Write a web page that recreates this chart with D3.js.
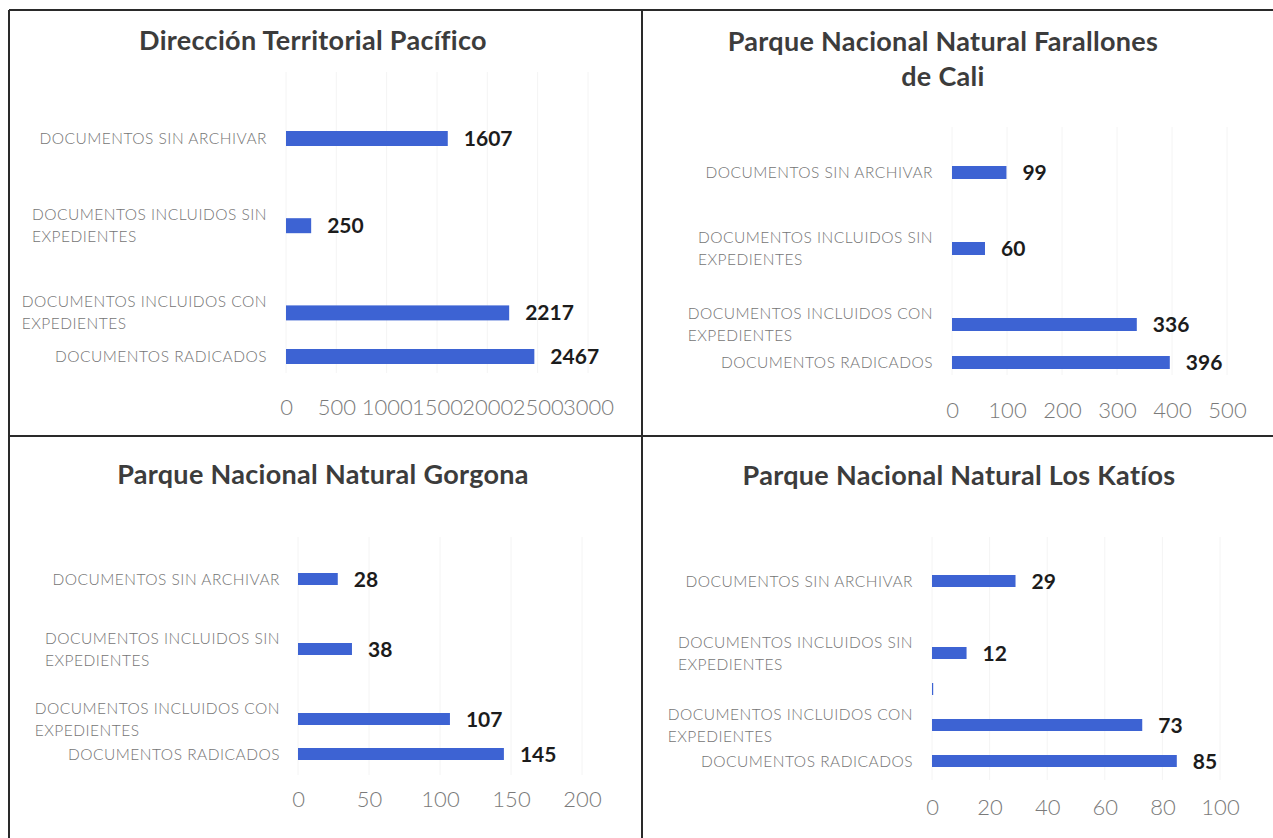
<!DOCTYPE html>
<html><head><meta charset="utf-8">
<script src="https://cdn.jsdelivr.net/npm/d3@7"></script>
<style>body{margin:0;background:#fff} svg{display:block}</style>
</head><body><svg id="chart" width="1273" height="838"></svg>
<script>
// ---- data ----
const categories = ["DOCUMENTOS SIN ARCHIVAR", "", "DOCUMENTOS INCLUIDOS SIN EXPEDIENTES", "", "DOCUMENTOS INCLUIDOS CON EXPEDIENTES", "DOCUMENTOS RADICADOS"];
const pacificoValues   = [1607, null, 250, null, 2217, 2467];
const farallonesValues = [99, null, 60, null, 336, 396];
const gorgonaValues    = [28, null, 38, null, 107, 145];
const katiosValues     = [29, null, 12, 0, 73, 85];
const pacificoTicks   = [0, 500, 1000, 1500, 2000, 2500, 3000];
const farallonesTicks = [0, 100, 200, 300, 400, 500];
const gorgonaTicks    = [0, 50, 100, 150, 200];
const katiosTicks     = [0, 20, 40, 60, 80, 100];
const titlePacifico   = ["Dirección Territorial Pacífico"];
const titleFarallones = ["Parque Nacional Natural Farallones", "de Cali"];
const titleGorgona    = ["Parque Nacional Natural Gorgona"];
const titleKatios     = ["Parque Nacional Natural Los Katíos"];

// ---- layout ----
const panels = [
  {values: pacificoValues, ticks: pacificoTicks, title: titlePacifico,
   x: [286, 588], y: [138.5, 356.5], labelRight: 267, barH: 15,
   titleX: 313, titleY: 50, tickY: 415, gridY: [72, 373]},
  {values: farallonesValues, ticks: farallonesTicks, title: titleFarallones,
   x: [952, 1227], y: [172.5, 362.5], labelRight: 933, barH: 13,
   titleX: 943, titleY: 51, tickY: 418, gridY: [127, 375]},
  {values: gorgonaValues, ticks: gorgonaTicks, title: titleGorgona,
   x: [298, 582], y: [579, 754], labelRight: 280, barH: 12,
   titleX: 323, titleY: 484, tickY: 807, gridY: [537, 775]},
  {values: katiosValues, ticks: katiosTicks, title: titleKatios,
   x: [932, 1220], y: [581, 761], labelRight: 913, barH: 12,
   titleX: 959, titleY: 485, tickY: 815, gridY: [537, 780]}
];

const FONT = "Lato, 'Open Sans', 'DejaVu Sans', sans-serif";
const BAR = "#3d63d3";
const svg = d3.select("#chart");

function wrap(label, maxChars) {
  const words = label.split(" "); const lines = []; let cur = "";
  words.forEach(w => {
    const t = cur ? cur + " " + w : w;
    if (t.length > maxChars && cur) { lines.push(cur); cur = w; } else cur = t;
  });
  if (cur) lines.push(cur);
  return lines;
}

panels.forEach(p => {
  const g = svg.append("g");
  const x = d3.scaleLinear().domain([p.ticks[0], p.ticks[p.ticks.length - 1]]).range(p.x);
  const y = d3.scalePoint().domain(d3.range(categories.length)).range(p.y);

  // faint gridlines
  g.selectAll("line.grid").data(p.ticks).join("line")
    .attr("x1", d => x(d)).attr("x2", d => x(d))
    .attr("y1", p.gridY[0]).attr("y2", p.gridY[1])
    .attr("stroke", "#f4f4f4").attr("stroke-width", 1);

  // title
  const tt = g.append("text").attr("text-anchor", "middle")
    .attr("font-family", FONT).attr("font-weight", 700).attr("font-size", 27)
    .attr("letter-spacing", 0.3).attr("fill", "#3c3c3c");
  p.title.forEach((t, i) => tt.append("tspan").attr("x", p.titleX).attr("y", p.titleY + i * 35).text(t));

  // x axis tick labels
  const ax = d3.axisBottom(x).tickValues(p.ticks).tickSize(0).tickPadding(0).tickFormat(d3.format("d"));
  const axG = g.append("g").attr("transform", `translate(0,${p.tickY})`).call(ax);
  axG.select(".domain").remove();
  axG.selectAll("text").attr("dy", 0).attr("y", 0)
    .attr("font-family", FONT).attr("font-weight", 300).attr("font-size", 22).attr("fill", "#7a7a7a");

  // bars
  const idx = d3.range(categories.length).filter(i => p.values[i] !== null);
  g.selectAll("rect.bar").data(idx).join("rect")
    .attr("x", x(0)).attr("y", i => y(i) - p.barH / 2)
    .attr("width", i => Math.max(1.2, x(p.values[i]) - x(0)))
    .attr("height", p.barH)
    .attr("fill", BAR);

  // value labels
  const lab = idx.filter(i => categories[i]);
  g.selectAll("text.val").data(lab).join("text")
    .attr("x", i => x(p.values[i]) + 16).attr("y", i => y(i)).attr("dy", "0.36em")
    .attr("font-family", FONT).attr("font-weight", 700).attr("font-size", 21)
    .attr("fill", "#1c1c1c").text(i => p.values[i]);

  // category labels
  lab.forEach(i => {
    const lines = wrap(categories[i], 24);
    const t = g.append("text").attr("font-family", FONT).attr("font-weight", 300)
      .attr("font-size", 15.5).attr("letter-spacing", 0.5).attr("fill", "#747474");
    const lh = 22;
    const y0 = y(i) - (lines.length - 1) * lh / 2;
    const spans = lines.map((l, k) => t.append("tspan").attr("y", y0 + k * lh).attr("dy", "0.36em").text(l));
    const w = d3.max(spans, s => s.node().getComputedTextLength());
    spans.forEach(s => s.attr("x", p.labelRight - w));
  });
});

// panel frame lines
const frame = [
  [9, 10, 1273, 10], [9, 436, 1273, 436], [9, 10, 9, 838], [642, 10, 642, 838]
];
svg.selectAll("line.frame").data(frame).join("line")
  .attr("x1", d => d[0]).attr("y1", d => d[1]).attr("x2", d => d[2]).attr("y2", d => d[3])
  .attr("stroke", "#2a2a2a").attr("stroke-width", 2);
</script>
</body></html>
